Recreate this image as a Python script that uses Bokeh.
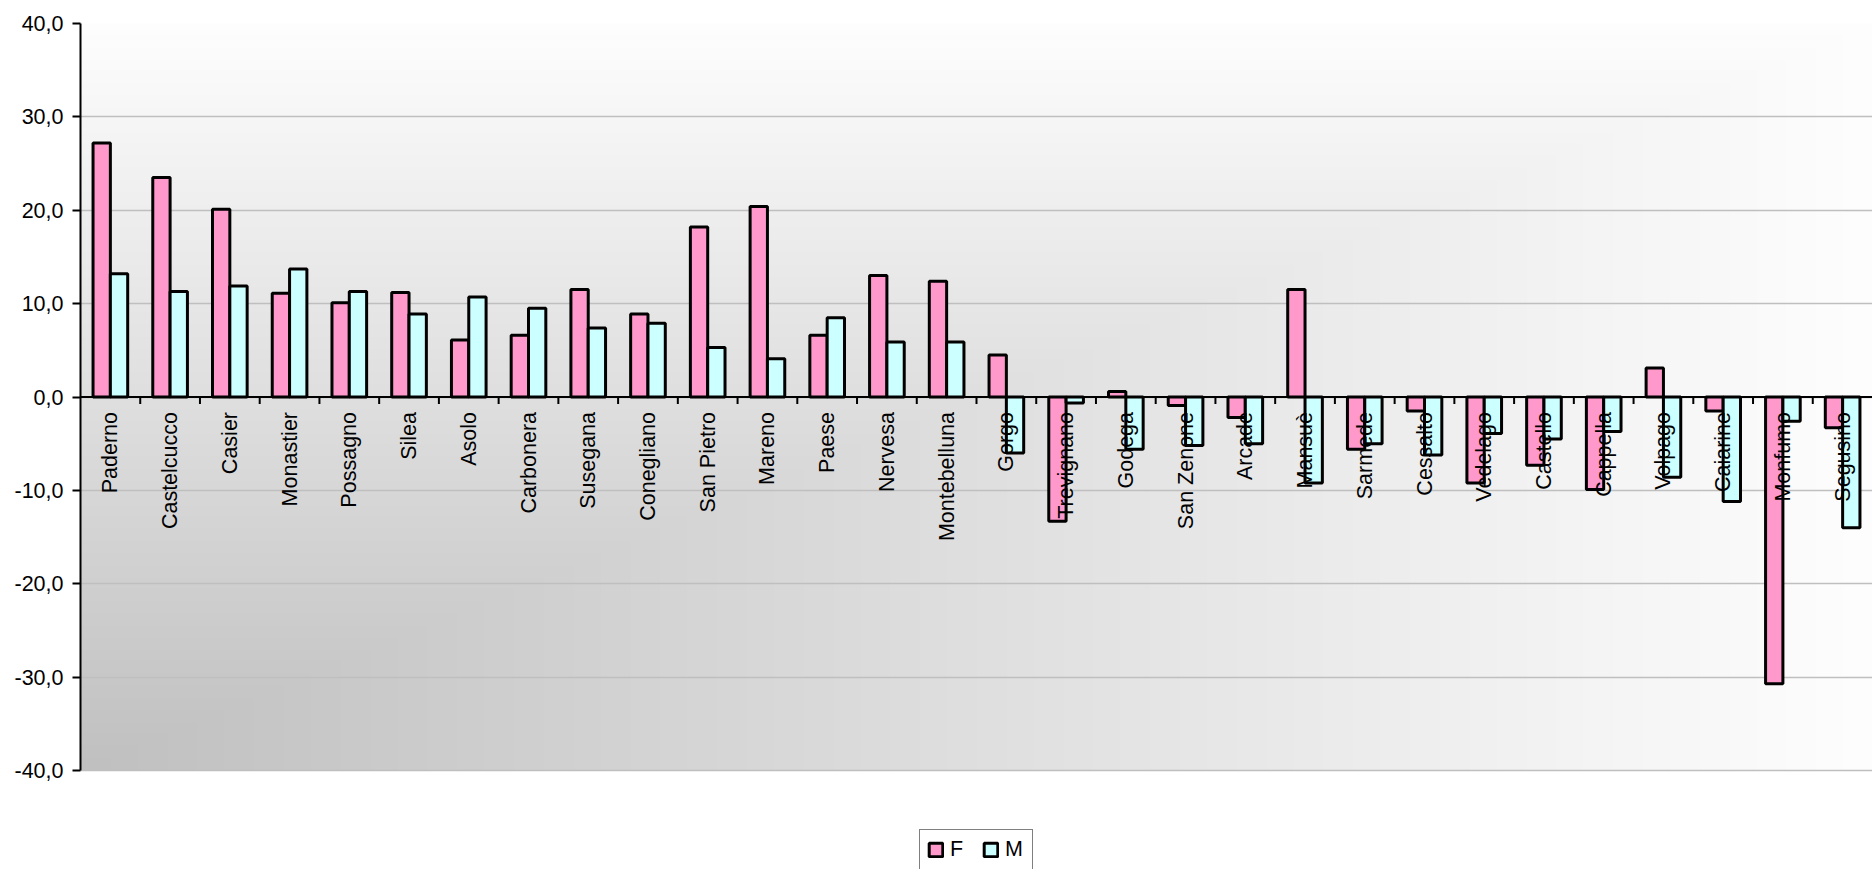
import numpy as np
from bokeh.plotting import figure
from bokeh.models import Range1d, FixedTicker, Span, Legend, LegendItem
from bokeh.core.properties import value
from bokeh.embed import file_html
from bokeh.resources import INLINE

# ---------------- data ----------------
categories = ["Paderno", "Castelcucco", "Casier", "Monastier", "Possagno", "Silea",
              "Asolo", "Carbonera", "Susegana", "Conegliano", "San Pietro", "Mareno",
              "Paese", "Nervesa", "Montebelluna", "Gorgo", "Trevignano", "Godega",
              "San Zenone", "Arcade", "Mansuè", "Sarmede", "Cessalto", "Vedelago",
              "Castello", "Cappella", "Volpago", "Caiarine", "Monfumo", "Segusino"]
f_values = [27.2, 23.5, 20.1, 11.1, 10.1, 11.2, 6.1, 6.6, 11.5, 8.9, 18.2, 20.4,
            6.6, 13.0, 12.4, 4.5, -13.3, 0.6, -0.9, -2.2, 11.5, -5.6, -1.5, -9.2,
            -7.3, -9.9, 3.1, -1.5, -30.7, -3.3]
m_values = [13.2, 11.3, 11.9, 13.7, 11.3, 8.9, 10.7, 9.5, 7.4, 7.9, 5.3, 4.1,
            8.5, 5.9, 5.9, -6.0, -0.65, -5.6, -5.2, -5.0, -9.2, -5.0, -6.2, -3.9,
            -4.5, -3.7, -8.6, -11.2, -2.6, -14.0]
series_names = ["F", "M"]
series_colors = ["#FF99CC", "#CCFFFF"]
y_ticks = [-40, -30, -20, -10, 0, 10, 20, 30, 40]
y_tick_labels = ["-40,0", "-30,0", "-20,0", "-10,0", "0,0", "10,0", "20,0", "30,0", "40,0"]

FONT = "Liberation Sans"
FS = "21.5px"

W, H = 1872, 869
TOP, LEFT = 23, 80
AXIS_PX = 747                      # pixel height of the -40..40 value band
frame_h = H - TOP
y_lo, y_hi = y_ticks[0], y_ticks[-1]
y_start = y_hi - frame_h * (y_hi - y_lo) / AXIS_PX   # extra room below for the legend

n = len(categories)
x_range = Range1d(0, n)
y_range = Range1d(y_start, y_hi)

p = figure(width=W, height=H, output_backend="svg", toolbar_location=None,
           x_range=x_range, y_range=y_range, x_axis_location=None,
           min_border_left=LEFT, min_border_right=0, min_border_top=TOP, min_border_bottom=0)
p.outline_line_color = None
p.background_fill_color = "white"
p.border_fill_color = "white"

# gradient background (corner gradient, darker toward bottom-left)
rows, cols = 300, 600
u = (np.arange(cols) + 0.5) / cols
v = (np.arange(rows) + 0.5) / rows
t = np.maximum(u[None, :], v[:, None])
g = (192 + 62 * t).astype(np.uint8)
img = np.empty((rows, cols), dtype=np.uint32)
view = img.view(dtype=np.uint8).reshape((rows, cols, 4))
view[:, :, 0] = g
view[:, :, 1] = g
view[:, :, 2] = g
view[:, :, 3] = 255
p.image_rgba(image=[img], x=x_range.start, y=y_lo,
             dw=x_range.end - x_range.start, dh=y_hi - y_lo, level="image")

# grid
p.xgrid.visible = False
p.ygrid.ticker = FixedTicker(ticks=y_ticks)
p.ygrid.grid_line_color = "#bfbfbf"
p.ygrid.grid_line_width = 1.5

# y axis
ax = p.yaxis[0]
ax.ticker = FixedTicker(ticks=y_ticks)
ax.bounds = (y_lo, y_hi)
ax.major_label_overrides = {t_: l_ for t_, l_ in zip(y_ticks, y_tick_labels)}
ax.axis_line_color = "black"
ax.axis_line_width = 2
ax.major_tick_line_color = "black"
ax.major_tick_line_width = 2
ax.major_tick_in = 0
ax.major_tick_out = 8
ax.minor_tick_line_color = None
ax.major_label_standoff = 9
ax.major_label_text_font = FONT
ax.major_label_text_font_size = FS
ax.major_label_text_color = "black"

# bars
centers = np.arange(n) + 0.5
bw = 0.29
rf = p.vbar(x=centers - bw / 2, top=f_values, bottom=0, width=bw,
            fill_color=series_colors[0], line_color="black", line_width=3)
rm = p.vbar(x=centers + bw / 2, top=m_values, bottom=0, width=bw,
            fill_color=series_colors[1], line_color="black", line_width=3)

# category axis at zero
p.add_layout(Span(location=0, dimension="width", line_color="black", line_width=2))
seps = np.arange(1, n)
p.segment(x0=seps, y0=np.zeros(len(seps)), x1=seps, y1=np.full(len(seps), -0.75),
          line_color="black", line_width=2)
p.text(x=centers, y=np.zeros(n), text=categories, angle=np.pi / 2,
       text_align="right", text_baseline="middle", y_offset=15,
       text_font=value(FONT), text_font_size=value(FS), text_color="black")

# legend (under the value band, inside the frame)
legend = Legend(items=[LegendItem(label=series_names[0], renderers=[rf]),
                       LegendItem(label=series_names[1], renderers=[rm])],
                orientation="horizontal", location="top_center")
legend.margin = 829 - TOP
legend.border_line_color = "black"
legend.border_line_width = 1.5
legend.background_fill_color = "white"
legend.background_fill_alpha = 1.0
legend.label_text_font = FONT
legend.label_text_font_size = FS
legend.label_text_color = "black"
legend.glyph_width = 17
legend.glyph_height = 17
legend.label_standoff = 6
legend.spacing = 12
legend.padding = 7
legend.label_height = 24
p.add_layout(legend)

open("out.html", "w").write(file_html(p, INLINE))
